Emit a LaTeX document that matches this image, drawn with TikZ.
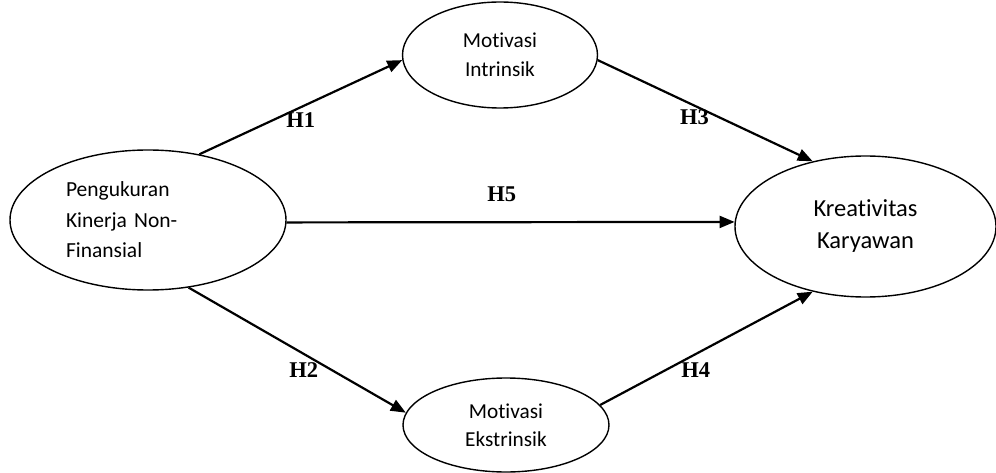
\documentclass[tikz,border=0pt]{standalone}
\usepackage{fontspec}
\setmainfont[Ligatures=NoCommon]{Carlito}
\newfontfamily\hfont{Liberation Serif}
\usetikzlibrary{shapes.geometric,arrows.meta}
\tikzset{
    var/.style={ellipse, draw, line width=1.4pt, inner sep=0pt},
    path/.style={line width=2.2pt, -{Triangle[length=15pt,width=12pt]}},
    hyp/.style={font=\hfont\bfseries\fontsize{22.5}{22.5}\selectfont, inner sep=0pt}
}
\begin{document}
\begin{tikzpicture}[x=1pt, y=-1pt]
        \useasboundingbox (0,0) rectangle (996,473);

        \node[var, minimum width=276pt, minimum height=140pt, text width=164pt, align=left,
              font=\fontsize{21.5}{30.5}\selectfont] (pk) at (148,220) {Pengukuran\\Kinerja Non-\\Finansial};
        \node[var, minimum width=195pt, minimum height=106pt, align=center,
              font=\fontsize{21.3}{29.5}\selectfont] (mi) at (500,55) {Motivasi\\Intrinsik};
        \node[var, minimum width=206pt, minimum height=94pt, align=center,
              font=\fontsize{21.3}{28.5}\selectfont] (me) at (506,425) {Motivasi\\Ekstrinsik};
        \node[var, minimum width=261pt, minimum height=141pt, align=center,
              font=\fontsize{24.5}{32}\selectfont] (kk) at (865.5,226.5) {Kreativitas\\Karyawan};

        \draw[path] (pk.52) -- (mi.183) node[hyp, pos=0.5, below=4pt]{H1};
        \draw[path] (pk.-59) -- (me.173) node[hyp, pos=0.53, below=8pt]{H2};
        \draw[path] (mi.-3) -- (kk.129.6) node[hyp, pos=0.45, below=3pt]{H3};
        \draw[path] (me.12) -- (kk.231.4) node[hyp, pos=0.45, below=8pt]{H4};
        \draw[path] (pk.-1) -- (kk.178) node[hyp, pos=0.48, above=19pt]{H5};
    \end{tikzpicture}
\end{document}
